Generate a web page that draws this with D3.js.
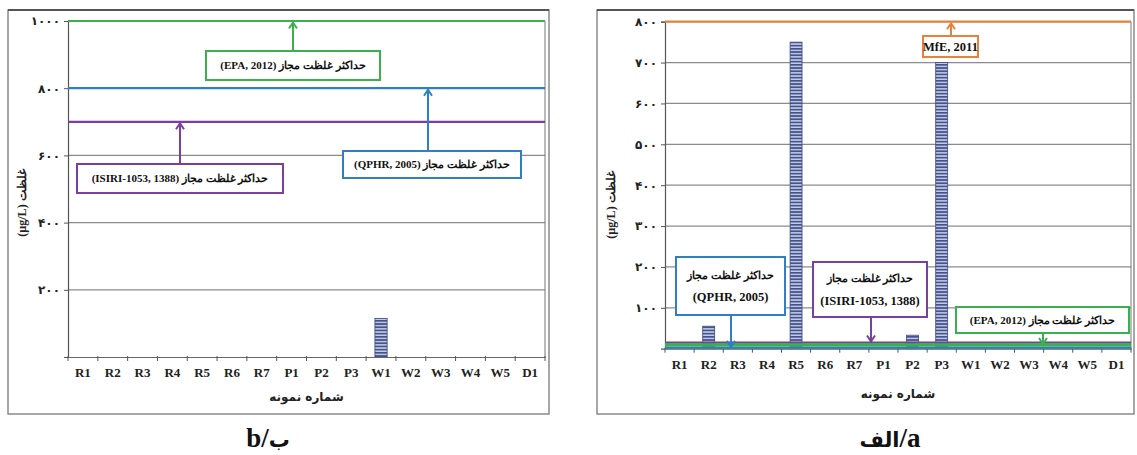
<!DOCTYPE html>
<html>
<head>
<meta charset="utf-8">
<script src="https://cdn.jsdelivr.net/npm/d3@7"></script>
<style>
  html, body { margin: 0; padding: 0; background: #fff; }
  svg { display: block; }
</style>
</head>
<body>
<svg id="chart" width="1137" height="455"></svg>
<script>
// ---------------- DATA ----------------
const categories = ["R1","R2","R3","R4","R5","R6","R7","P1","P2","P3","W1","W2","W3","W4","W5","D1"];

// Panel b (left)
const valuesB = [0,0,0,0,0,0,0,0,0,0,115,0,0,0,0,0];
const yTicksB = [200,400,600,800,1000];
const limitNamesB = ["EPA, 2012","QPHR, 2005","ISIRI-1053, 1388"];
const limitValuesB = [1000,800,700];

// Panel a (right)
const valuesA = [0,55,0,0,750,0,0,0,33,700,0,0,0,0,0,0];
const yTicksA = [100,200,300,400,500,600,700,800];
const limitNamesA = ["MfE, 2011","QPHR, 2005","ISIRI-1053, 1388","EPA, 2012"];
const limitValuesA = [800,2,15,9];

const yTitle = "غلظت (µg/L)";
const xTitle = "شماره نمونه";
const limitPrefix = "حداکثر غلظت مجاز";

// ---------------- STYLE ----------------
const colors = {
  "EPA, 2012": "#3bb04f",
  "QPHR, 2005": "#2f7fc2",
  "ISIRI-1053, 1388": "#7b3f9e",
  "MfE, 2011": "#e8823a"
};
const grid = "#8c8c8c";
const SERIF = "'Liberation Serif', 'DejaVu Serif', serif";
const FA = "'DejaVu Sans', sans-serif";
const fa = s => String(s).replace(/\d/g, c => "۰۱۲۳۴۵۶۷۸۹"[c]);

const svg = d3.select("#chart");

// bar pattern
const defs = svg.append("defs");
const pat = defs.append("pattern").attr("id","stripes")
  .attr("patternUnits","userSpaceOnUse").attr("width",10).attr("height",3.2);
pat.append("rect").attr("width",10).attr("height",3.2).attr("fill","#c3cbe5");
pat.append("rect").attr("width",10).attr("height",1.7).attr("fill","#44538c");

const panels = [
  {
    frame: {x0:8, y0:10, x1:549, y1:414},
    plot: {l:68, r:545, t:21, b:357},
    yMax: 1000, ticks: yTicksB, values: valuesB,
    names: limitNamesB, limits: limitValuesB,
    caption: ["b/", "ب"], captionX: 268,
    yTitleX: 22, yTitleY: 203, xTitleY: 401,
    notes: [
      {name:"EPA, 2012", box:[206,51,380,80], lines:[limitPrefix+" (EPA, 2012)"], ax:293, dir:"up"},
      {name:"QPHR, 2005", box:[343,151,521,178], lines:[limitPrefix+" (QPHR, 2005)"], ax:428, dir:"up"},
      {name:"ISIRI-1053, 1388", box:[77,164,283,193], lines:[limitPrefix+"  (ISIRI-1053, 1388)"], ax:180, dir:"up"}
    ]
  },
  {
    frame: {x0:597, y0:10, x1:1134, y1:414},
    plot: {l:665, r:1131, t:21.7, b:348.7},
    yMax: 800, ticks: yTicksA, values: valuesA,
    names: limitNamesA, limits: limitValuesA,
    caption: ["الف", "/a"], captionX: 890,
    yTitleX: 611, yTitleY: 205, xTitleY: 398,
    notes: [
      {name:"MfE, 2011", box:[923,36,978,57], lines:["MfE, 2011"], ax:951, dir:"up"},
      {name:"QPHR, 2005", box:[676,257,785,315], lines:[limitPrefix,"(QPHR, 2005)"], ax:731, dir:"down"},
      {name:"ISIRI-1053, 1388", box:[813,262,927,317], lines:[limitPrefix,"(ISIRI-1053, 1388)"], ax:871, dir:"down"},
      {name:"EPA, 2012", box:[956,307,1129,333], lines:[limitPrefix+"  (EPA, 2012)"], ax:1043, dir:"down"}
    ]
  }
];

const isLatin = t => /^[\x20-\x7e]+$/.test(t);

panels.forEach(p => {
  const g = svg.append("g");
  const f = p.frame;
  // outer frame
  g.append("rect").attr("x",f.x0).attr("y",f.y0).attr("width",f.x1-f.x0).attr("height",f.y1-f.y0)
    .attr("fill","none").attr("stroke","#8a8a8a").attr("stroke-width",1.5);
  g.append("line").attr("x1",f.x0).attr("x2",f.x1).attr("y1",f.y0).attr("y2",f.y0)
    .attr("stroke","#555").attr("stroke-width",2.2);

  const x = d3.scaleBand().domain(categories).range([p.plot.l, p.plot.r]).padding(0);
  const y = d3.scaleLinear().domain([0, p.yMax]).range([p.plot.b, p.plot.t]);

  // gridlines
  g.append("g").selectAll("line").data(p.ticks).join("line")
    .attr("x1", p.plot.l).attr("x2", p.plot.r)
    .attr("y1", d => y(d)).attr("y2", d => y(d))
    .attr("stroke", grid).attr("stroke-width", 1.2);

  // right border of plot
  g.append("line").attr("x1",p.plot.r).attr("x2",p.plot.r).attr("y1",y(p.yMax)).attr("y2",y(0))
    .attr("stroke","#777").attr("stroke-width",1);

  // bars
  const bw = x.bandwidth()*0.41;
  g.append("g").selectAll("rect").data(categories.map((c,i)=>({c, v:p.values[i]})).filter(d=>d.v>0))
    .join("rect")
    .attr("x", d => x(d.c) + (x.bandwidth()-bw)/2)
    .attr("width", bw)
    .attr("y", d => y(d.v))
    .attr("height", d => y(0) - y(d.v))
    .attr("fill","url(#stripes)")
    .attr("stroke","#3a4780").attr("stroke-width",0.8);

  // y axis
  const yAxis = d3.axisLeft(y).tickValues(p.ticks).tickSize(4).tickPadding(4).tickFormat(fa);
  const ya = g.append("g").attr("transform",`translate(${p.plot.l},0)`).call(yAxis);
  ya.attr("font-family", null);
  ya.select(".domain").attr("stroke","#555").attr("stroke-width",1.2);
  ya.selectAll(".tick line").attr("stroke","#555");
  ya.selectAll(".tick text").attr("fill","#222")
    .style("font-family", FA).style("font-size","12px").style("font-weight","bold");

  // x axis
  const xa = g.append("g").attr("transform",`translate(0,${y(0)})`)
    .call(d3.axisBottom(x).tickSize(0).tickPadding(11));
  xa.attr("font-family", null);
  xa.select(".domain").attr("stroke","#666").attr("stroke-width",1.2);
  xa.selectAll(".tick text").attr("fill","#222")
    .style("font-family", SERIF).style("font-size","13px").style("font-weight","bold");
  // boundary ticks
  const bounds = categories.map(c => x(c)).concat([p.plot.r]);
  xa.append("g").selectAll("line").data(bounds).join("line")
    .attr("x1", d=>d).attr("x2", d=>d).attr("y1",-1).attr("y2",4)
    .attr("stroke","#555").attr("stroke-width",1);

  // limit lines
  p.limits.forEach((v,i) => {
    const nm = p.names[i];
    g.append("line").attr("x1",p.plot.l).attr("x2",p.plot.r)
      .attr("y1", y(v)).attr("y2", y(v))
      .attr("stroke", colors[nm])
      .attr("stroke-width", nm === "EPA, 2012" && p.yMax===800 ? 3.5 : 2.2);
  });

  // annotations
  p.notes.forEach(n => {
    const col = colors[n.name];
    const v = p.limits[p.names.indexOf(n.name)];
    const [bx0,by0,bx1,by1] = n.box;
    const ty = y(v);
    const sy = n.dir === "up" ? by0 : by1;
    const tip = n.dir === "up" ? ty + 1.5 : ty - 1;
    g.append("line").attr("x1",n.ax).attr("x2",n.ax).attr("y1",sy).attr("y2",tip)
      .attr("stroke",col).attr("stroke-width",2);
    const s = n.dir === "up" ? 1 : -1;
    g.append("path")
      .attr("d",`M${n.ax-4},${tip+6*s} L${n.ax},${tip} L${n.ax+4},${tip+6*s}`)
      .attr("fill","none").attr("stroke",col).attr("stroke-width",2);
    g.append("rect").attr("x",bx0).attr("y",by0).attr("width",bx1-bx0).attr("height",by1-by0)
      .attr("fill","#fff").attr("stroke",col).attr("stroke-width",2);
    const cx = (bx0+bx1)/2, cy = (by0+by1)/2;
    const lh = 22;
    n.lines.forEach((t,k) => {
      const oy = (k - (n.lines.length-1)/2) * lh;
      g.append("text").attr("x",cx).attr("y",cy+oy).attr("dy","0.35em")
        .attr("text-anchor","middle")
        .attr("direction", isLatin(t) ? "ltr" : "rtl")
        .attr("fill","#111")
        .style("font-family", SERIF)
        .style("font-size", isLatin(t) ? "12.5px" : "11px")
        .style("font-weight","bold")
        .text(t);
    });
  });

  // y title
  g.append("text").attr("transform",`translate(${p.yTitleX},${p.yTitleY}) rotate(-90)`)
    .attr("text-anchor","middle").attr("direction","rtl").attr("dy","0.35em")
    .attr("fill","#222")
    .style("font-family", SERIF).style("font-size","12px").style("font-weight","bold")
    .text(yTitle);

  // x title
  g.append("text").attr("x",(p.plot.l+p.plot.r)/2).attr("y",p.xTitleY)
    .attr("text-anchor","middle").attr("direction","rtl")
    .attr("fill","#222")
    .style("font-family", FA).style("font-size","12px").style("font-weight","bold")
    .text(xTitle);

  // caption
  const cap = g.append("text").attr("x",p.captionX).attr("y",447)
    .attr("text-anchor","middle").attr("direction","ltr").attr("fill","#111");
  p.caption.forEach(part => {
    cap.append("tspan")
      .style("font-family", isLatin(part) ? SERIF : FA)
      .style("font-size", isLatin(part) ? "27px" : "21px")
      .style("font-weight","bold")
      .text(part);
  });
});
</script>
</body>
</html>
